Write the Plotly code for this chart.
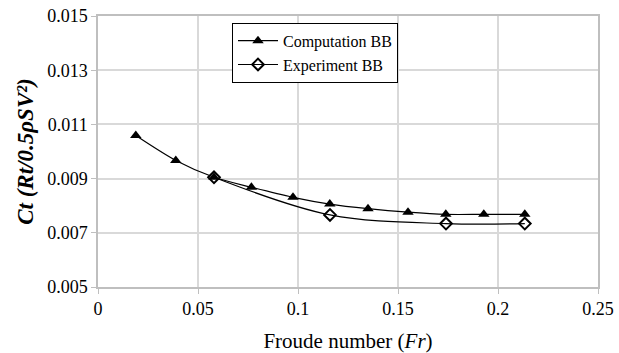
import plotly.graph_objects as go

comp_fr = [0.0189, 0.0389, 0.0580, 0.0767, 0.0975, 0.1159, 0.1350, 0.1550, 0.1739, 0.1929, 0.2134]
comp_ct = [0.01059, 0.00967, 0.00905, 0.00868, 0.00831, 0.00806, 0.00789, 0.00776, 0.00768, 0.00768, 0.00768]

exp_fr = [0.0580, 0.1160, 0.1740, 0.2134]
exp_ct = [0.00905, 0.00766, 0.00734, 0.00734]

FONT = "'Times New Roman', 'Liberation Serif', 'DejaVu Serif', serif"

fig = go.Figure()
fig.add_trace(go.Scatter(
    x=comp_fr, y=comp_ct, mode="lines+markers", name="Computation BB",
    line=dict(color="black", width=1.2, shape="spline", smoothing=0.8),
    marker=dict(symbol="triangle-up", size=10, color="black"),
))
fig.add_trace(go.Scatter(
    x=exp_fr, y=exp_ct, mode="lines+markers", name="Experiment BB",
    line=dict(color="black", width=1.2, shape="spline", smoothing=1.0),
    marker=dict(symbol="diamond-open", size=9, color="black", line=dict(width=2, color="black")),
))

fig.update_layout(
    width=619, height=353,
    margin=dict(l=98, r=21, t=16, b=66, autoexpand=False),
    paper_bgcolor="white", plot_bgcolor="white",
    font=dict(family=FONT, size=18, color="black"),
    showlegend=True,
    legend=dict(
        x=0.268, y=0.975, xanchor="left", yanchor="top",
        bgcolor="white", bordercolor="black", borderwidth=1,
        font=dict(family=FONT, size=16, color="black"),
        tracegroupgap=0, itemwidth=40,
    ),
)
fig.update_xaxes(
    range=[0, 0.25], dtick=0.05, tick0=0, automargin=False,
    showgrid=True, gridcolor="#d9d9d9", gridwidth=1.5,
    showline=True, linecolor="#bfbfbf", linewidth=1.5, mirror=True,
    ticks="outside", ticklen=5, tickcolor="#bfbfbf",
    zeroline=False,
    tickfont=dict(family=FONT, size=18),
    title=dict(text="Froude number (<i>Fr</i>)", font=dict(family=FONT, size=21), standoff=16),
)
fig.update_yaxes(
    range=[0.005, 0.015], dtick=0.002, tick0=0.005, tickformat=".3f", automargin=False,
    showgrid=True, gridcolor="#d9d9d9", gridwidth=1.5,
    showline=True, linecolor="#bfbfbf", linewidth=1.5, mirror=True,
    ticks="outside", ticklen=5, tickcolor="#bfbfbf",
    zeroline=False,
    tickfont=dict(family=FONT, size=18),
    title=dict(text="<b><i>Ct (Rt/0.5ρSV²)</i></b>", font=dict(family=FONT, size=23), standoff=7),
)

fig.write_html("out.html")
